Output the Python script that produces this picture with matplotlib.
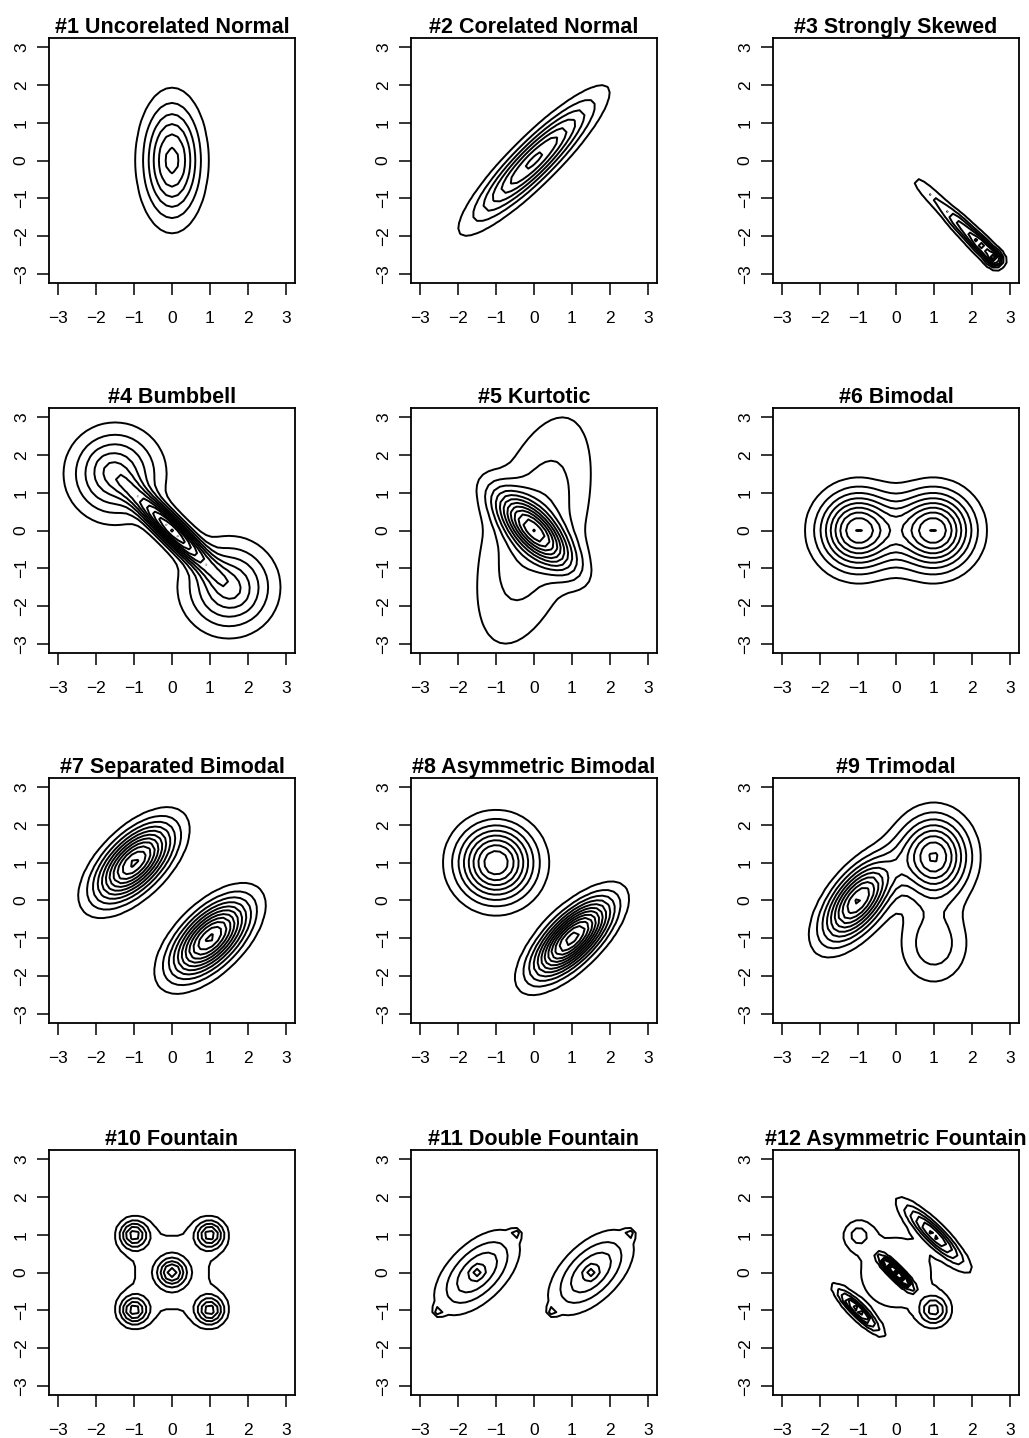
import numpy as np
import matplotlib
matplotlib.use("Agg")
import matplotlib.pyplot as plt

plt.rcParams['font.family'] = ['Liberation Sans', 'DejaVu Sans']

TITLES = ["#1 Uncorelated Normal", "#2 Corelated Normal", "#3 Strongly Skewed",
          "#4 Bumbbell", "#5 Kurtotic", "#6 Bimodal",
          "#7 Separated Bimodal", "#8 Asymmetric Bimodal", "#9 Trimodal",
          "#10 Fountain", "#11 Double Fountain", "#12 Asymmetric Fountain"]

TICKS = [-3, -2, -1, 0, 1, 2, 3]

# mixture components: (weight, mean_x, mean_y, sd_x, sd_y, rho)
MIX1 = [(1.0, 0.0, 0.0, 0.5, 1.0, 0.0)]
MIX2 = [(1.0, 0.0, 0.0, 1.0, 1.0, 0.9)]
MIX3 = [(0.224, 1.0, -1.0, 0.4608, 0.4608, -0.9077),
        (0.280, 1.75, -1.75, 0.3159, 0.3159, -0.8036),
        (0.373, 2.3, -2.3, 0.2689, 0.2689, -0.7289),
        (0.123, 2.6, -2.6, 0.1407, 0.1407, -0.01)]
MIX4 = [(4/11, -1.5, 1.5, 0.75, 0.75, 0.0),
        (3/11, 0.0, 0.0, 0.6708, 0.6708, -0.9),
        (4/11, 1.5, -1.5, 0.75, 0.75, 0.0)]
MIX5 = [(2/3, 0.0, 0.0, 1.0, 2.0, 0.5),
        (1/3, 0.0, 0.0, 2/3, 2/3, -0.75)]
MIX6 = [(0.5, -1.0, 0.0, 2/3, 2/3, 0.0),
        (0.5, 1.0, 0.0, 2/3, 2/3, 0.0)]
MIX7 = [(0.5, -1.0, 1.0, 2/3, 2/3, 0.6),
        (0.5, 1.0, -1.0, 2/3, 2/3, 0.6)]
MIX8 = [(0.5, 1.0, -1.0, 2/3, 2/3, 0.7),
        (0.5, -1.0, 1.0, 2/3, 2/3, 0.0)]
MIX9 = [(3/7, -1.0, 0.0, 0.6, 0.7, 0.6),
        (3/7, 1.0, 1.1547, 0.6, 0.7, 0.0),
        (1/7, 1.0, -1.1547, 0.6, 0.7, 0.0)]
MIX10 = [(0.5, 0.0, 0.0, 1.0, 1.0, 0.0),
         (0.1, 0.0, 0.0, 0.25, 0.25, 0.0),
         (0.1, 1.0, 1.0, 0.25, 0.25, 0.0),
         (0.1, 1.0, -1.0, 0.25, 0.25, 0.0),
         (0.1, -1.0, 1.0, 0.25, 0.25, 0.0),
         (0.1, -1.0, -1.0, 0.25, 0.25, 0.0)]
MIX11 = [(0.485, -1.5, 0.0, 0.6708, 0.6708, 0.55),
         (0.0055, -1.5, 0.0, 0.1, 0.1, 0.0),
         (0.005, -2.5, -1.0, 0.0707, 0.0707, 0.0),
         (0.005, -0.5, 1.0, 0.0707, 0.0707, 0.0),
         (0.485, 1.5, 0.0, 0.6708, 0.6708, 0.55),
         (0.0055, 1.5, 0.0, 0.1, 0.1, 0.0),
         (0.005, 0.5, -1.0, 0.0707, 0.0707, 0.0),
         (0.005, 2.5, 1.0, 0.0707, 0.0707, 0.0)]
MIX12 = [(0.48, 0.0, 0.0, 1.0, 1.0, 0.0),
         (0.1, 0.0, 0.0, 0.25, 0.25, -0.9),
         (0.2, 1.0, 1.0, 0.5, 0.5, -0.9),
         (0.1, -1.0, -1.0, 1/3, 1/3, -0.9),
         (0.08, 1.0, -1.0, 0.25, 0.25, 0.0),
         (0.04, -1.0, 1.0, 0.25, 0.25, 0.0)]

MIXES = [MIX1, MIX2, MIX3, MIX4, MIX5, MIX6, MIX7, MIX8, MIX9, MIX10, MIX11, MIX12]


def density(mix, X, Y):
    z = np.zeros_like(X)
    for w, mx, my, sx, sy, r in mix:
        dx = (X - mx) / sx
        dy = (Y - my) / sy
        q = (dx * dx - 2 * r * dx * dy + dy * dy) / (1 - r * r)
        z += w * np.exp(-q / 2) / (2 * np.pi * sx * sy * np.sqrt(1 - r * r))
    return z


def rpretty(lo, up, ndiv=10, h=1.5):
    h5 = 0.5 + 1.5 * h
    cell = (up - lo) / ndiv
    base = 10 ** np.floor(np.log10(cell))
    unit = base
    if 2 * base - cell < h * (cell - unit):
        unit = 2 * base
        if 5 * base - cell < h5 * (cell - unit):
            unit = 5 * base
            if 10 * base - cell < h * (cell - unit):
                unit = 10 * base
    ns = np.floor(lo / unit + 1e-7)
    nu = np.ceil(up / unit - 1e-7)
    return np.arange(ns, nu + 1) * unit


grid = np.linspace(-3, 3, 41)
X, Y = np.meshgrid(grid, grid)

fig = plt.figure(figsize=(10.29, 14.38), dpi=100)
W, H = 1029.0, 1438.0
lefts = [49, 411, 773]
tops = [38, 408, 778, 1150]
bw, bh = 246, 245

for k, (title, mix) in enumerate(zip(TITLES, MIXES)):
    r, c = divmod(k, 3)
    ax = fig.add_axes([lefts[c] / W, 1 - (tops[r] + bh) / H, bw / W, bh / H])
    Z = density(mix, X, Y)
    lv = rpretty(Z.min(), Z.max(), 10)
    lv = lv[(lv > Z.min()) & (lv < Z.max())]
    ax.contour(grid, grid, Z, levels=lv, colors='black', linewidths=1.4,
               linestyles='solid')
    ax.set_xlim(-3.24, 3.24)
    ax.set_ylim(-3.24, 3.24)
    ax.set_xticks(TICKS)
    ax.set_yticks(TICKS)
    ax.set_xticklabels([f"\u2212{abs(t)}" if t < 0 else str(t) for t in TICKS])
    ax.set_yticklabels([f"\u2212{abs(t)}" if t < 0 else str(t) for t in TICKS],
                       rotation=90, va='center')
    ax.tick_params(axis='both', direction='out', length=8.5, width=1.1,
                   labelsize=12.5, color='black')
    ax.tick_params(axis='x', pad=12)
    ax.tick_params(axis='y', pad=6)
    for s in ax.spines.values():
        s.set_linewidth(1.3)
        s.set_color('black')
    ax.set_title(title, fontsize=15.5, fontweight='bold', pad=3)

fig.savefig("out.png", dpi=100)
